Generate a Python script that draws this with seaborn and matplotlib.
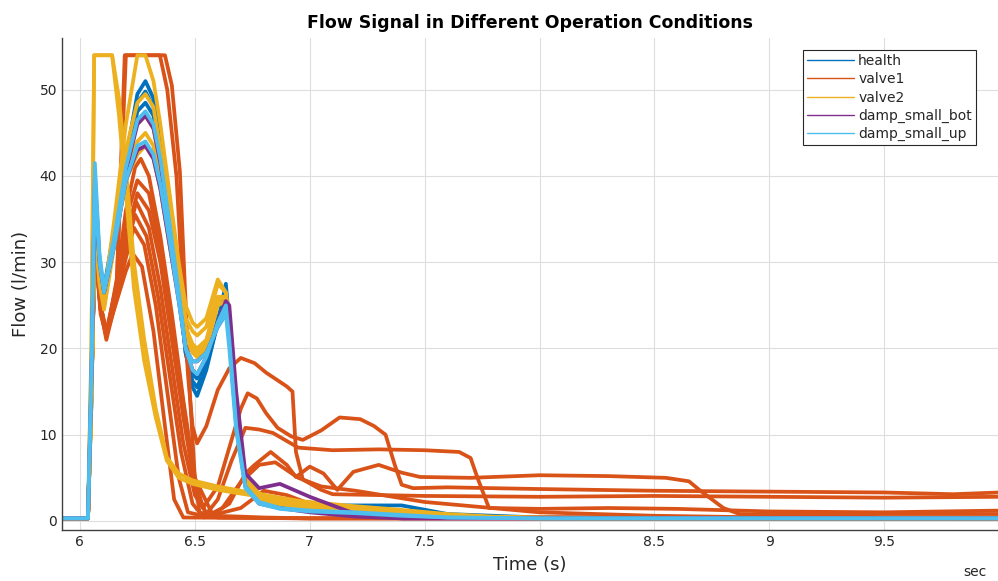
import numpy as np
import pandas as pd
import seaborn as sns
import matplotlib
matplotlib.use("Agg")
import matplotlib.pyplot as plt
from matplotlib.lines import Line2D

# ---------------- data ----------------
conditions = ["health", "valve1", "valve2", "damp_small_bot", "damp_small_up"]
colors = ["#0072BD", "#D95319", "#EDB120", "#7E2F8E", "#4DBEEE"]

x_ticks = [6, 6.5, 7, 7.5, 8, 8.5, 9, 9.5]
x_tick_labels = ["6", "6.5", "7", "7.5", "8", "8.5", "9", "9.5"]
y_ticks = [0, 10, 20, 30, 40, 50]
y_tick_labels = ["0", "10", "20", "30", "40", "50"]

# common sample times for the "normal" two-hump curves (health, damp, valve2)
t_main = [5.92, 6.035, 6.05, 6.065, 6.085, 6.105, 6.15, 6.2, 6.25, 6.285, 6.32,
          6.35, 6.39, 6.43, 6.46, 6.49, 6.51, 6.55, 6.6, 6.635, 6.65, 6.68,
          6.72, 6.78, 6.87, 7.0, 7.2, 7.4, 7.6, 8.0, 10.0]

health_1 = [0.3, 0.3, 15, 36, 29, 27, 34, 42, 49.5, 51, 49, 44.5, 36.5, 27.5, 19.5, 15.5,
            14.5, 17.5, 23, 27.5, 23, 12.5, 4.5, 2.5, 2.0, 1.8, 1.8, 1.8, 0.8, 0.4, 0.3]
health_2 = [0.3, 0.3, 14, 35, 28.5, 26.5, 33, 41, 48.5, 49.8, 48, 43.5, 35.5, 27, 19.5, 16.2,
            15.5, 18, 23, 26.5, 22.5, 12, 4.2, 2.3, 1.8, 1.5, 1.3, 1.0, 0.6, 0.3, 0.3]
health_3 = [0.3, 0.3, 14, 34, 28, 26, 32.5, 40.5, 47.5, 48.5, 47, 42.5, 35, 27, 20, 17,
            16.5, 18.5, 23.5, 26, 22, 11.5, 4, 2.2, 1.6, 1.2, 1.0, 0.8, 0.5, 0.3, 0.3]

damp_up_1 = [0.3, 0.3, 18, 41.5, 31, 26.8, 33, 41, 46.5, 47.5, 46, 42, 34.5, 26.5, 20, 17.5,
             17, 19, 23, 25, 21, 11, 4, 2.2, 1.5, 1.2, 1.0, 0.7, 0.4, 0.3, 0.3]
damp_up_2 = [0.3, 0.3, 16, 39, 30, 26.5, 32, 39.5, 43.5, 44, 42.5, 39, 32.5, 25.5, 20, 18.5,
             18.5, 19.5, 22.5, 24, 20, 10.5, 3.8, 2, 1.4, 1.1, 0.9, 0.6, 0.4, 0.3, 0.3]

damp_bot_1 = [0.3, 0.3, 17, 40, 30.5, 26.5, 32.5, 40.5, 46, 47, 45.5, 41.5, 34, 26, 20, 17.5,
              17, 19, 23, 25.5, 25, 15, 5.5, 3.8, 4.3, 2.8, 0.8, 0.3, 0.3, 0.3, 0.3]
damp_bot_2 = [0.3, 0.3, 16, 38, 30, 26.5, 32, 39.5, 43, 43.5, 42, 38.5, 32, 25.5, 20, 18.5,
              18.5, 19.5, 22.5, 24, 23.5, 13, 4, 2, 1.5, 1.0, 0.5, 0.3, 0.3, 0.3, 0.3]

valve2_1 = [0.3, 0.3, 15, 37, 29, 26, 35, 46, 54, 54, 51, 46, 38, 30, 25, 23,
            22.5, 23.5, 28, 26.5, 23, 13, 5, 3.2, 2.4, 1.9, 1.5, 1.0, 0.6, 0.3, 0.3]
valve2_2 = [0.3, 0.3, 14, 36, 28.5, 25.5, 34, 43, 48.5, 49.5, 48, 43, 35.5, 28, 23.5, 22,
            21.5, 22.5, 27.5, 26.5, 23, 13, 4.8, 3, 2.2, 1.7, 1.3, 0.9, 0.5, 0.3, 0.3]
valve2_3 = [0.3, 0.3, 14, 35.5, 28, 25, 33, 42, 46, 47, 45.5, 41, 34, 27, 22.5, 20.5,
            20, 21, 26, 26, 22.5, 12.5, 4.6, 2.8, 2, 1.6, 1.2, 0.8, 0.4, 0.3, 0.3]
valve2_4 = [0.3, 0.3, 14, 35, 28, 25, 32.5, 40.5, 44, 45, 43.5, 39.5, 33, 26.5, 22, 20,
            19.5, 20.5, 25.5, 26, 22, 12, 4.5, 2.6, 2, 1.5, 1, 0.6, 0.4, 0.3, 0.3]
valve2_5 = [0.3, 0.3, 13.5, 34.5, 27.5, 24.5, 32, 39.5, 42.5, 43.5, 42, 38.5, 32, 26, 21.5, 19.5,
            19, 20, 25, 25.5, 21.5, 11.5, 4.3, 2.5, 1.9, 1.4, 1.0, 0.6, 0.4, 0.3, 0.3]

# valve2 runs that saturate early and then decay slowly
t_valve2_early = [5.92, 6.035, 6.05, 6.062, 6.14, 6.17, 6.2, 6.235, 6.28, 6.33, 6.378,
                  6.43, 6.49, 6.6, 6.74, 6.96, 7.2, 7.39, 7.6, 7.8, 8.2, 10]
valve2_6 = [0.3, 0.3, 20, 54, 54, 49, 41, 30, 21, 13, 7.4, 5.5, 4.7, 4.0, 3.3, 2.3,
            1.7, 1.3, 0.8, 0.5, 0.3, 0.3]
valve2_7 = [0.3, 0.3, 20, 54, 54, 47, 38, 27, 18.5, 12, 7, 5, 4.3, 3.6, 3.0, 2.0,
            1.5, 1.1, 0.7, 0.4, 0.3, 0.3]

# valve1 runs (each with its own sample times)
t_valve1_1 = [5.92, 6.035, 6.05, 6.065, 6.09, 6.115, 6.16, 6.195, 6.37, 6.40, 6.435, 6.457,
              6.48, 6.5, 6.52, 6.6, 7.0, 10]
valve1_1 = [0.3, 0.3, 15, 33, 25, 21.5, 27, 54, 54, 50.5, 40.5, 27, 14, 5, 1, 0.4, 0.3, 0.3]

t_valve1_2 = [5.92, 6.035, 6.05, 6.065, 6.09, 6.115, 6.16, 6.2, 6.348, 6.38, 6.42, 6.445,
              6.47, 6.49, 6.51, 6.55, 6.6, 6.65, 6.7, 6.76, 6.81, 6.9, 6.925, 6.94, 6.97,
              7.05, 7.1, 7.3, 7.5, 8.0, 8.5, 9.0, 9.5, 10]
valve1_2 = [0.3, 0.3, 15, 32, 24.5, 22, 27.5, 54, 54, 50, 40, 28, 17, 11, 9, 11, 15.2, 17.7,
            18.9, 18.3, 17.2, 15.6, 15, 8, 4.8, 3.6, 3.1, 3.0, 2.9, 2.8, 2.9, 2.8, 2.7, 2.8]

t_valve1_3 = [5.92, 6.035, 6.05, 6.065, 6.09, 6.115, 6.16, 6.2, 6.24, 6.265, 6.3, 6.35,
              6.4, 6.45, 6.5, 6.535, 6.6, 6.65, 6.7, 6.73, 6.77, 6.81, 6.86, 6.92, 6.97,
              7.05, 7.13, 7.22, 7.28, 7.33, 7.37, 7.40, 7.45, 7.6, 8.0, 8.5, 9.0, 9.5,
              9.8, 10]
valve1_3 = [0.3, 0.3, 15, 33.5, 25, 21.3, 28, 36, 41, 42, 40, 33, 24, 14, 5, 1.5, 4, 8.5,
            13, 14.8, 14.2, 12.5, 10.8, 9.8, 9.4, 10.5, 12, 11.8, 11, 10, 6.5, 4.2, 3.8,
            3.9, 3.7, 3.5, 3.4, 3.3, 3.1, 3.3]

t_valve1_4 = [5.92, 6.035, 6.05, 6.065, 6.09, 6.115, 6.16, 6.2, 6.25, 6.3, 6.35, 6.4,
              6.45, 6.5, 6.55, 6.6, 6.66, 6.72, 6.78, 6.84, 6.95, 7.1, 7.3, 7.5, 7.65,
              7.7, 7.73, 7.78, 8.0, 8.3, 8.6, 9.0, 9.5, 10]
valve1_4 = [0.3, 0.3, 15, 33, 25, 21.5, 27, 33, 38, 36, 30, 21, 12, 4, 0.8, 2.5, 7, 10.8,
            10.6, 10.2, 8.5, 8.2, 8.3, 8.2, 8.0, 7.3, 5, 1.5, 1.4, 1.5, 1.4, 1.1, 1.0, 1.2]

t_valve1_5 = [5.92, 6.035, 6.05, 6.065, 6.09, 6.115, 6.16, 6.2, 6.245, 6.3, 6.35, 6.4,
              6.45, 6.5, 6.56, 6.65, 6.72, 6.76, 6.83, 6.9, 6.94, 7.0, 7.06, 7.12, 7.19,
              7.3, 7.4, 7.48, 7.7, 8.0, 8.3, 8.55, 8.65, 8.7, 8.8, 8.87, 9.0, 9.5, 10]
valve1_5 = [0.3, 0.3, 15, 32.5, 24.5, 21, 26, 32, 37, 34, 27, 18, 9, 3, 0.5, 2, 5.5, 6.5,
            8, 6.5, 5.1, 6.3, 5.5, 3.6, 5.7, 6.5, 5.6, 5.1, 5.0, 5.3, 5.2, 5.0, 4.6, 3.5,
            1.5, 0.8, 0.7, 0.8, 0.8]

t_valve1_6 = [5.92, 6.035, 6.05, 6.065, 6.09, 6.115, 6.16, 6.2, 6.24, 6.29, 6.34, 6.39,
              6.44, 6.49, 6.54, 6.62, 6.7, 6.78, 6.85, 6.95, 7.05, 7.2, 7.5, 8.0, 8.5,
              9.0, 10]
valve1_6 = [0.3, 0.3, 15, 32, 24, 21.5, 26, 31.5, 35.5, 33, 26, 17, 8, 2, 0.4, 1.5, 4.5,
            6.5, 6.8, 5, 4, 3.5, 2.2, 1.0, 0.6, 0.4, 0.3]

t_valve1_7 = [5.92, 6.035, 6.05, 6.065, 6.09, 6.115, 6.16, 6.2, 6.235, 6.28, 6.33, 6.38,
              6.43, 6.47, 6.55, 6.7, 6.8, 6.9, 7.0, 7.2, 10]
valve1_7 = [0.3, 0.3, 15, 33, 25, 22, 26, 30.5, 34, 32, 25, 15, 5, 1, 0.5, 1.5, 3.5, 3,
            2, 0.5, 0.3]

t_valve1_8 = [5.92, 6.035, 6.05, 6.065, 6.09, 6.115, 6.16, 6.2, 6.23, 6.27, 6.32, 6.37,
              6.41, 6.45, 7.0, 10]
valve1_8 = [0.3, 0.3, 15, 32.5, 24.5, 21.5, 25.5, 29, 31, 29.5, 22, 11, 2.5, 0.4, 0.3, 0.3]

t_valve1_9 = [5.92, 6.035, 6.05, 6.065, 6.09, 6.115, 6.16, 6.2, 6.25, 6.3, 6.35, 6.4,
              6.45, 6.5, 6.58, 6.7, 6.8, 7.0, 10]
valve1_9 = [0.3, 0.3, 15, 33, 25, 21.5, 27.5, 35, 39.5, 38, 31.5, 23, 13.5, 5, 0.6, 0.5,
            0.4, 0.3, 0.3]

# ---------------- assemble long-form table ----------------
runs = [
    ("health", t_main, health_1), ("health", t_main, health_2), ("health", t_main, health_3),
    ("valve1", t_valve1_1, valve1_1), ("valve1", t_valve1_2, valve1_2),
    ("valve1", t_valve1_3, valve1_3), ("valve1", t_valve1_4, valve1_4),
    ("valve1", t_valve1_5, valve1_5), ("valve1", t_valve1_6, valve1_6),
    ("valve1", t_valve1_7, valve1_7), ("valve1", t_valve1_8, valve1_8),
    ("valve1", t_valve1_9, valve1_9),
    ("valve2", t_valve2_early, valve2_6), ("valve2", t_valve2_early, valve2_7),
    ("valve2", t_main, valve2_5), ("valve2", t_main, valve2_4), ("valve2", t_main, valve2_3),
    ("valve2", t_main, valve2_2), ("valve2", t_main, valve2_1),
    ("damp_small_bot", t_main, damp_bot_1), ("damp_small_bot", t_main, damp_bot_2),
    ("damp_small_up", t_main, damp_up_2), ("damp_small_up", t_main, damp_up_1),
]
frames = []
for i, (cond, t, f) in enumerate(runs):
    frames.append(pd.DataFrame({"time": t, "flow": f, "condition": cond, "run": i}))
df = pd.concat(frames, ignore_index=True)

# ---------------- plot ----------------
sns.set_style("white")
plt.rcParams["font.family"] = ["DejaVu Sans"]

fig = plt.figure(figsize=(9.98, 5.81), dpi=100)
ax = fig.add_axes([62 / 998, 51 / 581, 936 / 998, 492 / 581])

sns.lineplot(data=df, x="time", y="flow", hue="condition", units="run",
             estimator=None, sort=False, hue_order=conditions,
             palette=dict(zip(conditions, colors)), linewidth=2.7,
             legend=False, ax=ax)

ax.set_xlim(5.922, 9.995)
ax.set_ylim(-1.05, 56)
ax.set_xticks(x_ticks)
ax.set_xticklabels(x_tick_labels)
ax.set_yticks(y_ticks)
ax.set_yticklabels(y_tick_labels)
ax.grid(True, color="#dedede", linewidth=0.8)
ax.set_axisbelow(True)
for s in ["top", "right"]:
    ax.spines[s].set_visible(False)
for s in ["left", "bottom"]:
    ax.spines[s].set_color("#404040")
    ax.spines[s].set_linewidth(1.0)
ax.tick_params(direction="in", length=5, width=0.8, colors="#404040",
               labelcolor="#262626", labelsize=10)

ax.set_xlabel("Time (s)", fontsize=13, color="#262626", labelpad=5)
ax.set_ylabel("Flow (l/min)", fontsize=13, color="#262626", labelpad=7)
ax.set_title("Flow Signal in Different Operation Conditions", fontsize=12.5,
             fontweight="bold", color="black", pad=7)

handles = [Line2D([0], [0], color=c, lw=1.0) for c in colors]
leg = ax.legend(handles, conditions, loc="upper right",
                bbox_to_anchor=(0.9765, 0.9756), fontsize=10, frameon=True,
                fancybox=False, edgecolor="#262626", framealpha=1,
                handlelength=3.4, handletextpad=0.3, labelspacing=0.3,
                borderpad=0.3, borderaxespad=0)
leg.get_frame().set_linewidth(0.8)

fig.text(975 / 998, 1 - 572 / 581, "sec", ha="center", va="center",
         fontsize=10, color="#262626")

fig.savefig("out.png", dpi=100)
